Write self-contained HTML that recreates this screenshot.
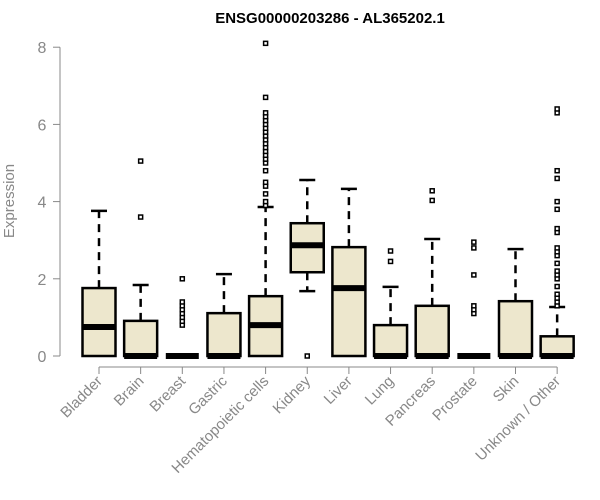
<!DOCTYPE html>
<html><head><meta charset="utf-8"><style>
body{margin:0;background:#fff}
svg{display:block;font-family:"Liberation Sans",Arial,sans-serif}
</style></head><body>
<svg id="chart" width="600" height="500">
<text x="330" y="23" text-anchor="middle" font-weight="bold" font-size="15">ENSG00000203286 - AL365202.1</text>
<text transform="translate(14,201) rotate(-90)" text-anchor="middle" font-size="15" fill="#888">Expression</text>
<g id="axes"></g><g id="boxes"></g>
</svg>
<script>
const categories=["Bladder","Brain","Breast","Gastric","Hematopoietic cells","Kidney","Liver","Lung","Pancreas","Prostate","Skin","Unknown / Other"];
const lowWhisker=[0,0,0,0,0,1.68,0,0,0,0,0,0];
const q1=[0,0,0,0,0,2.17,0,0,0,0,0,0];
const medians=[0.75,0,0,0,0.8,2.87,1.76,0,0,0,0,0];
const q3=[1.76,0.91,0,1.11,1.55,3.44,2.82,0.8,1.3,0,1.42,0.51];
const highWhisker=[3.76,1.84,0,2.12,3.86,4.56,4.33,1.79,3.03,0,2.77,1.27];
const outliers=[[],[3.6,5.05],[0.8,0.9,1.0,1.1,1.2,1.3,1.4,2.0],[],[3.9,4.0,4.2,4.4,4.5,4.8,5.0,5.1,5.2,5.3,5.4,5.5,5.6,5.7,5.8,5.9,6.0,6.1,6.2,6.3,6.7,8.1],[0],[],[2.45,2.72],[4.03,4.28],[1.1,1.2,1.3,2.1,2.8,2.95],[],[1.3,1.4,1.5,1.6,1.8,2.0,2.1,2.2,2.4,2.6,2.7,2.8,3.2,3.3,3.8,4.0,4.6,4.8,6.3,6.4]];
const yTicks=[0,2,4,6,8];
const NS="http://www.w3.org/2000/svg";
const y=v=>356-v*38.6;
const x=i=>99+i*41.65;
function mk(p,t,a){const e=document.createElementNS(NS,t);for(const k in a)e.setAttribute(k,a[k]);p.appendChild(e);return e;}
const ax=document.getElementById('axes'),bx=document.getElementById('boxes');
let l=mk(ax,'line',{x1:60,x2:60,y1:y(0),y2:y(8),stroke:'#888'});


yTicks.forEach(t=>{
 mk(ax,'line',{x1:53,x2:60,y1:y(t),y2:y(t),stroke:'#888'});
 const tx=mk(ax,'text',{x:42,y:y(t)+6,'text-anchor':'middle','font-size':16,fill:'#888'});tx.textContent=t;
 
 
});
l=mk(ax,'line',{x1:x(0),x2:x(11),y1:367,y2:367,stroke:'#888'});


categories.forEach((c,i)=>{
 const cx=x(i),w=16.5;
 mk(ax,'line',{x1:cx,x2:cx,y1:367,y2:374,stroke:'#888'});
 const tx=mk(ax,'text',{transform:`translate(${cx+4},${382}) rotate(-45)`,'text-anchor':'end','font-size':15,fill:'#888'});tx.textContent=c;
 
 
 const g=mk(bx,'g',{});
 
 
 if(highWhisker[i]>q3[i]){mk(g,'line',{x1:cx,x2:cx,y1:y(q3[i]),y2:y(highWhisker[i]),stroke:'#000','stroke-width':2.5,'stroke-dasharray':'8,6'});
  mk(g,'line',{x1:cx-8,x2:cx+8,y1:y(highWhisker[i]),y2:y(highWhisker[i]),stroke:'#000','stroke-width':2.5});}
 if(lowWhisker[i]<q1[i]){mk(g,'line',{x1:cx,x2:cx,y1:y(q1[i]),y2:y(lowWhisker[i]),stroke:'#000','stroke-width':2.5,'stroke-dasharray':'8,6'});
  mk(g,'line',{x1:cx-8,x2:cx+8,y1:y(lowWhisker[i]),y2:y(lowWhisker[i]),stroke:'#000','stroke-width':2.5});}
 mk(g,'rect',{x:cx-w,y:y(q3[i]),width:2*w,height:Math.max(0,y(q1[i])-y(q3[i])),fill:'#ede7cd',stroke:'#000','stroke-width':2.5});
 mk(g,'line',{x1:cx-w,x2:cx+w,y1:y(medians[i]),y2:y(medians[i]),stroke:'#000','stroke-width':6});
 outliers[i].forEach(o=>mk(g,'rect',{x:cx-2,y:y(o)-2,width:4,height:4,fill:'#fff',stroke:'#000','stroke-width':1.5}));
});
</script>
</body></html>
